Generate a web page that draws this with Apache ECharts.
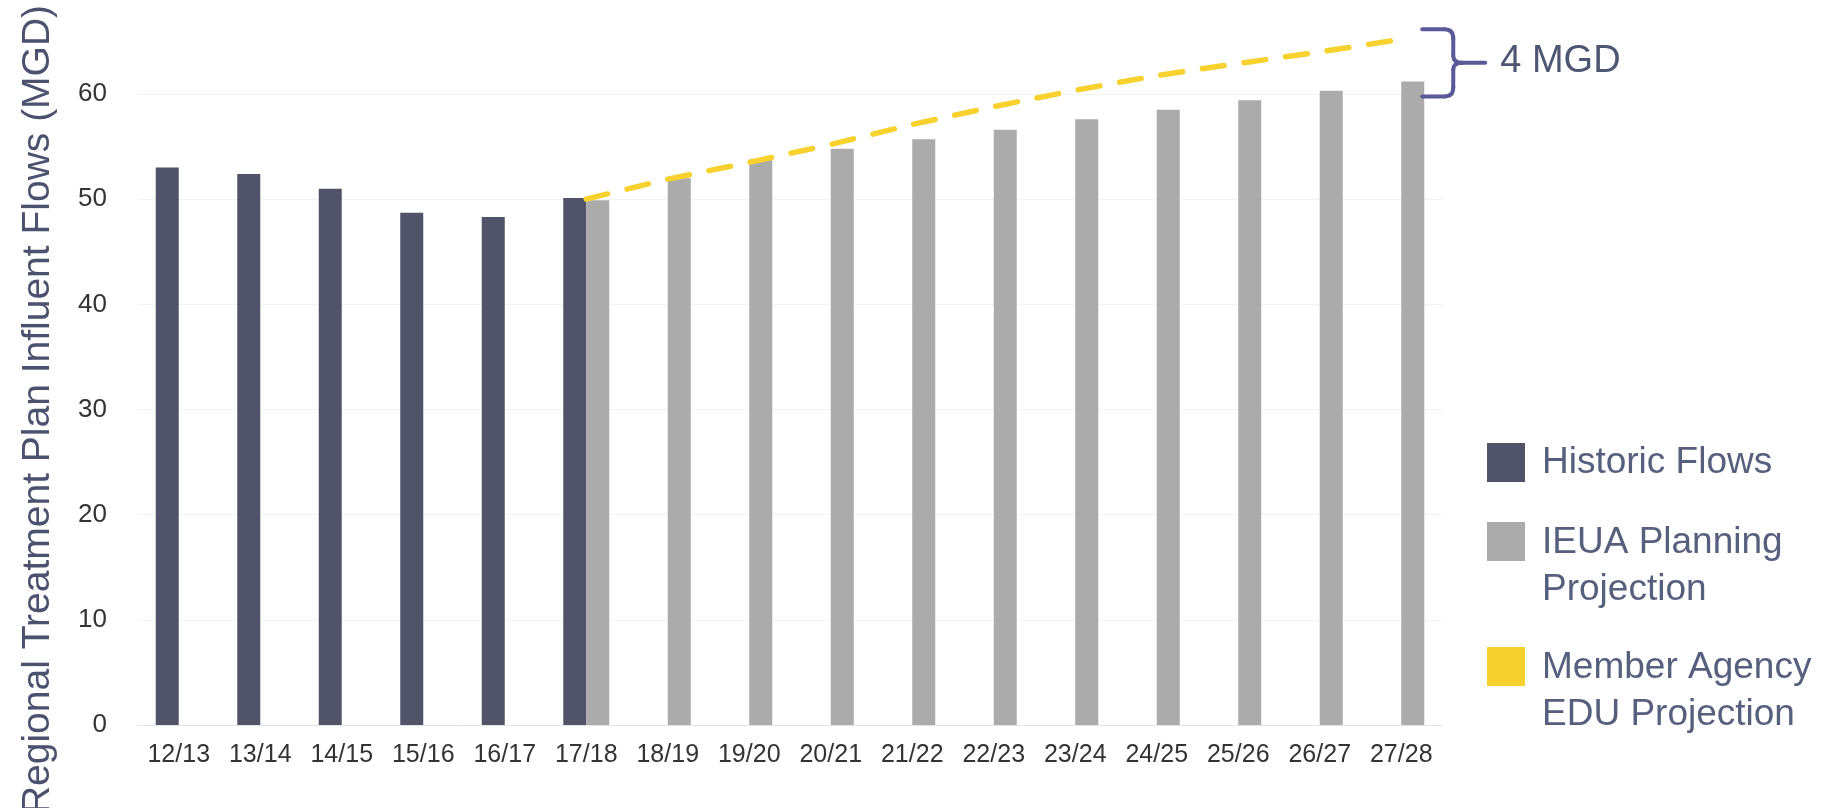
<!DOCTYPE html>
<html>
<head>
<meta charset="utf-8">
<script src="https://cdn.jsdelivr.net/npm/echarts@6/dist/echarts.min.js"></script>
<style>
html,body{margin:0;padding:0;background:#fff;}
#chart{width:1840px;height:808px;}
</style>
</head>
<body>
<div id="chart"></div>
<script>
const categories = ['12/13','13/14','14/15','15/16','16/17','17/18','18/19','19/20','20/21','21/22','22/23','23/24','24/25','25/26','26/27','27/28'];
const historicFlows = [53.0, 52.4, 51.0, 48.7, 48.3, 50.1, null, null, null, null, null, null, null, null, null, null];
const ieuaProjection = [null, null, null, null, null, 49.9, 52.0, 53.8, 54.8, 55.7, 56.6, 57.6, 58.5, 59.4, 60.3, 61.2];
const eduProjection = [null, null, null, null, null, 50.0, 51.9, 53.5, 55.2, 57.1, 58.8, 60.35, 61.75, 62.9, 64.0, 65.2];
const yTicks = { min: 0, max: 60, interval: 10 };
const gapLabel = '4 MGD';

const FONT = '"Liberation Sans", Arial, sans-serif';
const C_HIST = '#515468';
const C_IEUA = '#ababab';
const C_EDU = '#f7d12e';
const C_LEGEND_TEXT = '#56607e';
const C_BRACKET = '#5a5a98';
const LEG_FS = 37;

const chart = echarts.init(document.getElementById('chart'), null, { renderer: 'canvas' });

function legendBase(name, top, twoLine) {
  const rich = twoLine ? {
    a: { fontSize: LEG_FS, fontFamily: FONT, color: C_LEGEND_TEXT, lineHeight: 96, verticalAlign: 'bottom' },
    b: { fontSize: LEG_FS, fontFamily: FONT, color: C_LEGEND_TEXT, lineHeight: 57 }
  } : {
    a: { fontSize: LEG_FS, fontFamily: FONT, color: C_LEGEND_TEXT, lineHeight: 46 }
  };
  return {
    data: [{ name: name, icon: 'rect' }],
    orient: 'vertical',
    left: 1487,
    top: top,
    padding: 0,
    itemWidth: 38,
    itemHeight: 39,
    selectedMode: false,
    formatter: function (n) {
      const parts = n.split('\n');
      return parts.length > 1 ? '{a|' + parts[0] + '}\n{b|' + parts[1] + '}' : '{a|' + n + '}';
    },
    textStyle: { fontSize: LEG_FS, fontFamily: FONT, color: C_LEGEND_TEXT, padding: [0, 0, 0, 12], rich: rich }
  };
}

const option = {
  animation: false,
  backgroundColor: '#ffffff',
  textStyle: { fontFamily: FONT },
  grid: { left: 138, right: 398, top: 94, bottom: 83, containLabel: false, outerBoundsMode: 'none' },
  legend: [
    legendBase('Historic Flows', 443, false),
    legendBase('IEUA Planning\nProjection', 522, true),
    legendBase('Member Agency\nEDU Projection', 647, true)
  ],
  xAxis: {
    type: 'category',
    data: categories,
    axisTick: { show: false },
    axisLine: { show: true, lineStyle: { color: '#e4e4e4', width: 1 } },
    axisLabel: { fontSize: 25, color: '#333333', margin: 18, fontFamily: FONT, interval: 0 }
  },
  yAxis: {
    type: 'value',
    min: yTicks.min,
    max: yTicks.max,
    interval: yTicks.interval,
    name: 'Regional Treatment Plan Influent Flows (MGD)',
    nameLocation: 'middle',
    nameRotate: 90,
    nameGap: 80,
    nameTextStyle: { fontSize: 39, color: '#4b5270', fontFamily: FONT },
    axisLine: { show: false },
    axisTick: { show: false },
    axisLabel: { fontSize: 26, color: '#333333', margin: 31, fontFamily: FONT },
    splitLine: { show: true, lineStyle: { color: '#f3f3f3', width: 1 } }
  },
  series: [
    {
      name: 'Historic Flows',
      type: 'bar',
      data: historicFlows,
      barWidth: 23,
      barGap: '0%',
      clip: false,
      itemStyle: { color: C_HIST }
    },
    {
      name: 'IEUA Planning\nProjection',
      type: 'bar',
      data: ieuaProjection,
      barWidth: 23,
      barGap: '0%',
      clip: false,
      itemStyle: { color: C_IEUA }
    },
    {
      name: 'Member Agency\nEDU Projection',
      type: 'line',
      data: eduProjection,
      showSymbol: false,
      symbol: 'none',
      clip: false,
      z: 5,
      itemStyle: { color: C_EDU },
      lineStyle: { color: C_EDU, width: 5.5, type: [22, 20], cap: 'round' }
    }
  ]
};

chart.setOption(option);

// Bracket annotation showing the gap between the two projections at the last year
const last = categories.length - 1;
const pTop = chart.convertToPixel({ seriesIndex: 2 }, [last, eduProjection[last]]);
const pBot = chart.convertToPixel({ seriesIndex: 1 }, [last, ieuaProjection[last]]);
const x0 = pTop[0] + 21;
const xv = x0 + 31;
const x3 = x0 + 63;
const yT = pTop[1] - 10;
const yB = pBot[1] + 15;
const yM = (yT + yB) / 2;
const bStyle = { stroke: C_BRACKET, lineWidth: 4, lineCap: 'round', fill: null };
function ln(a, b, c, d) { return { type: 'line', shape: { x1: a, y1: b, x2: c, y2: d }, style: bStyle, z: 10 }; }
function qc(a, b, cx, cy, c, d) { return { type: 'bezierCurve', shape: { x1: a, y1: b, cpx1: cx, cpy1: cy, x2: c, y2: d }, style: bStyle, z: 10 }; }

chart.setOption({
  graphic: [
    ln(x0, yT, xv - 9, yT),
    qc(xv - 9, yT, xv, yT, xv, yT + 9),
    ln(xv, yT + 9, xv, yM - 7),
    qc(xv, yM - 7, xv, yM, xv + 9, yM),
    ln(xv + 9, yM, x3, yM),
    qc(xv + 9, yM, xv, yM, xv, yM + 7),
    ln(xv, yM + 7, xv, yB - 9),
    qc(xv, yB - 9, xv, yB, xv - 9, yB),
    ln(xv - 9, yB, x0, yB),
    {
      type: 'text',
      x: x3 + 15,
      y: yM - 1,
      style: { text: gapLabel, fontSize: 38, fontFamily: FONT, fill: '#4d5672', verticalAlign: 'middle', align: 'left' },
      z: 10
    }
  ]
});
</script>
</body>
</html>
